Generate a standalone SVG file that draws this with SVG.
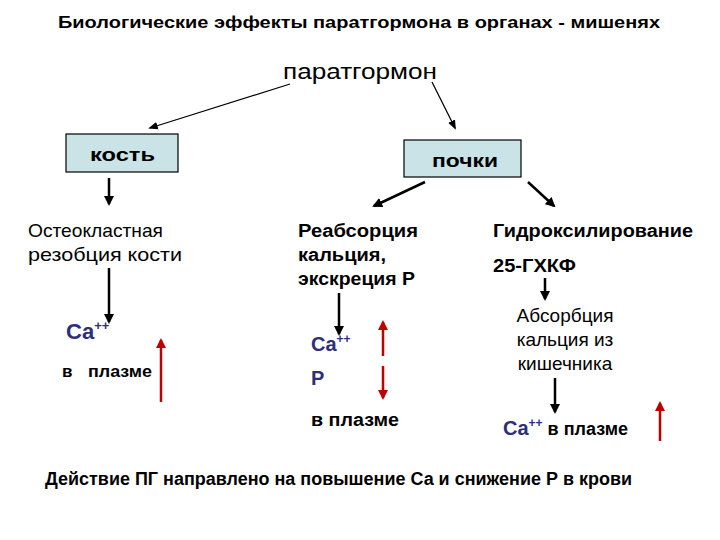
<svg xmlns="http://www.w3.org/2000/svg" width="720" height="540" viewBox="0 0 720 540">
<style>
text{font-family:"Liberation Sans",Arial,sans-serif;fill:#000}
.b{font-weight:bold}
.ca{fill:#2e2e7a;font-weight:bold}
.box{fill:#c9e3e6;stroke:#000;stroke-width:1.2}
.k{stroke:#000;stroke-width:2.5;fill:none}
.t{stroke:#000;stroke-width:1.2;fill:none}
.r{stroke:#c00000;stroke-width:2.5;fill:none}
</style>
<defs>
<marker id="ak" viewBox="0 0 10 10" refX="8" refY="5" markerWidth="4" markerHeight="4" orient="auto"><path d="M0,0L10,5L0,10z" fill="#000"/></marker>
<marker id="at" viewBox="0 0 10 10" refX="8" refY="5" markerWidth="8" markerHeight="8" orient="auto"><path d="M0,1L10,5L0,9z" fill="#000"/></marker>
<marker id="ar" viewBox="0 0 10 10" refX="8" refY="5" markerWidth="4" markerHeight="4" orient="auto"><path d="M0,0L10,5L0,10z" fill="#c00000"/></marker>
</defs>
<text class="b" x="58" y="28" font-size="17" textLength="602" lengthAdjust="spacingAndGlyphs">Биологические эффекты паратгормона в органах - мишенях</text>
<g id="ptg"><text x="283" y="79" font-size="22" textLength="154" lengthAdjust="spacingAndGlyphs">паратгормон</text></g>
<g id="kost"><rect class="box" x="66" y="134" width="112" height="38"/><text class="b" x="90" y="161" font-size="19" textLength="65" lengthAdjust="spacingAndGlyphs">кость</text></g>
<g id="pochki"><rect class="box" x="404" y="140" width="117" height="37"/><text class="b" x="432" y="167" font-size="19" textLength="66" lengthAdjust="spacingAndGlyphs">почки</text></g>
<g id="osteo"><text x="28" y="237" font-size="19" textLength="135" lengthAdjust="spacingAndGlyphs">Остеокластная</text><text x="28" y="261" font-size="19" textLength="154" lengthAdjust="spacingAndGlyphs">резобция кости</text></g>
<g id="ca1"><text class="ca" x="66" y="339" font-size="22">Ca<tspan font-size="13" dy="-9">++</tspan></text><text class="b" x="62" y="377" font-size="17">в</text><text class="b" x="88" y="377" font-size="17" textLength="64" lengthAdjust="spacingAndGlyphs">плазме</text></g>
<g id="reab"><text class="b" x="298" y="237" font-size="18" textLength="120" lengthAdjust="spacingAndGlyphs">Реабсорция</text><text class="b" x="298" y="261" font-size="18" textLength="88" lengthAdjust="spacingAndGlyphs">кальция,</text><text class="b" x="298" y="285" font-size="18" textLength="117" lengthAdjust="spacingAndGlyphs">экскреция Р</text></g>
<g id="ca2"><text class="ca" x="311" y="351" font-size="20">Ca<tspan font-size="12" dy="-8">++</tspan></text><text class="ca" x="311" y="385" font-size="20">Р</text><text class="b" x="311" y="426" font-size="18" textLength="88" lengthAdjust="spacingAndGlyphs">в плазме</text></g>
<g id="gidr"><text class="b" x="493" y="237" font-size="18" textLength="200" lengthAdjust="spacingAndGlyphs">Гидроксилирование</text><text class="b" x="493" y="272" font-size="18" textLength="83" lengthAdjust="spacingAndGlyphs">25-ГХКФ</text></g>
<g id="abs"><text x="565" y="322" font-size="19" text-anchor="middle">Абсорбция</text><text x="565" y="346" font-size="19" text-anchor="middle">кальция из</text><text x="565" y="370" font-size="19" text-anchor="middle">кишечника</text></g>
<g id="ca3"><text class="ca" x="503" y="435" font-size="20">Ca<tspan font-size="12" dy="-8">++</tspan><tspan dy="8" fill="#000" font-size="18"> в плазме</tspan></text></g>
<g id="bottom"><text class="b" x="45" y="485" font-size="18" textLength="587" lengthAdjust="spacingAndGlyphs">Действие ПГ направлено на повышение Са и снижение Р в крови</text></g>
<g id="connectors">
<line class="t" x1="290" y1="84" x2="150" y2="128" marker-end="url(#at)"/>
<line class="t" x1="432" y1="82" x2="455" y2="128" marker-end="url(#at)"/>
<line class="k" x1="109" y1="178" x2="109" y2="204" marker-end="url(#ak)"/>
<line class="k" x1="425" y1="182" x2="374" y2="206" marker-end="url(#ak)"/>
<line class="k" x1="528" y1="182" x2="554" y2="206" marker-end="url(#ak)"/>
<line class="k" x1="109" y1="268" x2="109" y2="322" marker-end="url(#ak)"/>
<line class="k" x1="339" y1="293" x2="339" y2="334" marker-end="url(#ak)"/>
<line class="k" x1="545" y1="278" x2="545" y2="299" marker-end="url(#ak)"/>
<line class="k" x1="555" y1="378" x2="555" y2="412" marker-end="url(#ak)"/>
<line class="r" x1="161" y1="402" x2="161" y2="340" marker-end="url(#ar)"/>
<line class="r" x1="383" y1="356" x2="383" y2="322" marker-end="url(#ar)"/>
<line class="r" x1="383" y1="366" x2="383" y2="398" marker-end="url(#ar)"/>
<line class="r" x1="660" y1="441" x2="660" y2="403" marker-end="url(#ar)"/>
</g>
</svg>
